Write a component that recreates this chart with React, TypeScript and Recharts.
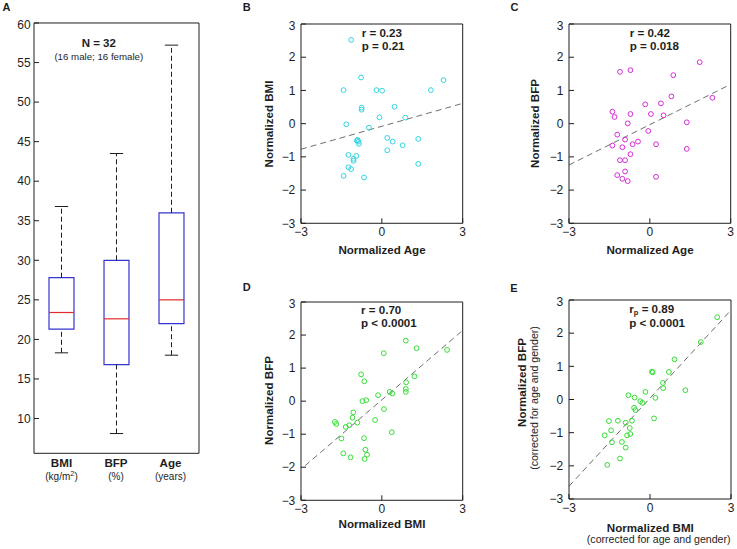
import React from "react";
import {
  ComposedChart,
  ScatterChart,
  Scatter,
  XAxis,
  YAxis,
  ReferenceArea,
  ReferenceLine,
} from "recharts";

// panel A: box plot summary
const boxCats = [1, 2, 3];
const boxLow = [18.3, 8.1, 18.0];
const boxQ1 = [21.3, 16.8, 22.0];
const boxMed = [23.4, 22.6, 25.0];
const boxQ3 = [27.8, 30.0, 36.0];
const boxHigh = [36.8, 43.5, 57.2];
const boxTicks = [10, 15, 20, 25, 30, 35, 40, 45, 50, 55, 60];

// panels B-E: normalized values
const normXTicks = [-3, 0, 3];
const normYTicks = [-3, -2, -1, 0, 1, 2, 3];

const ageB = [-1.14, -0.77, -1.42, -0.2, 0.01, 1.82, 2.29, -0.75, -0.75, 0.47, -0.09, 0.87, -1.32, -0.48, -0.93, -0.87, -0.85, 0.2, 0.4, 0.77, 1.35, 0.2, -1.24, -0.95, -1.05, -1.05, -1.24, -1.14, -1.42, -0.66, 1.35, -0.9];
const bmiB = [2.52, 1.39, 1.01, 1.01, 0.99, 1.01, 1.31, 0.48, 0.42, 0.51, 0.19, 0.18, -0.02, -0.12, -0.51, -0.54, -0.61, -0.43, -0.54, -0.65, -0.46, -0.8, -0.94, -0.97, -1.06, -1.12, -1.31, -1.37, -1.57, -1.62, -1.21, -0.49];

const ageC = [-1.11, -0.72, 1.85, 0.87, 0.8, 2.32, -0.17, 0.41, -1.39, -1.31, -0.72, 0.04, 0.51, -0.82, 1.37, -0.06, -1.21, -0.92, -0.64, -0.44, 0.23, -1.39, -1.02, 1.37, -0.72, -1.11, -0.92, -0.92, -1.21, -1.02, -0.82, 0.23];
const bfpC = [1.56, 1.61, 1.85, 1.46, 0.82, 0.78, 0.58, 0.61, 0.36, 0.2, 0.29, 0.29, 0.25, 0.01, 0.04, -0.22, -0.33, -0.48, -0.62, -0.54, -0.62, -0.66, -0.71, -0.76, -0.92, -1.1, -1.1, -1.44, -1.55, -1.66, -1.73, -1.6];

const bmiD = [0.89, 1.29, 2.42, 0.07, -0.77, -0.65, 0.9, 1.21, 0.89, 0.89, 0.29, 0.39, -0.14, -0.72, -0.58, 0.08, -1.06, -1.09, -0.25, -0.91, -1.74, -1.69, -1.21, -1.34, 0.37, -1.5, -0.66, -0.61, -0.55, -0.64, -1.43, -1.16];
const bfpD = [1.83, 1.6, 1.55, 1.45, 0.81, 0.6, 0.57, 0.75, 0.37, 0.28, 0.28, 0.23, 0.18, 0.0, 0.03, -0.24, -0.34, -0.5, -0.57, -0.65, -0.63, -0.69, -0.73, -0.78, -0.94, -1.13, -1.12, -1.47, -1.62, -1.75, -1.58, -1.7];

const bmiE = [2.49, 1.88, 0.91, 0.07, 0.1, 0.7, 0.48, 0.49, 1.31, -0.17, -0.8, -0.57, 0.2, -0.36, -0.28, -0.59, -0.54, 0.15, -1.52, -1.19, -0.9, -0.67, -1.44, -0.75, -1.68, -0.85, -0.73, -1.41, -1.04, -0.9, -1.11, -1.58];
const bfpE = [2.48, 1.73, 1.21, 0.84, 0.82, 0.83, 0.5, 0.34, 0.28, 0.23, 0.13, 0.06, 0.05, -0.05, -0.1, -0.25, -0.32, -0.57, -0.65, -0.64, -0.7, -0.64, -0.93, -0.86, -1.08, -1.08, -1.04, -1.29, -1.28, -1.45, -1.78, -1.97];

// least-squares lines per panel (B, C, D, E)
const fitSlope = [0.23, 0.405, 0.7, 0.885];
const fitIntercept = [-0.08, -0.03, 0.04, 0.04];
const fitFrom = [-3, -3, -2.85, -3];

const FONT = "'Liberation Sans', Arial, Helvetica, sans-serif";
const INK = "#1e1e1e";

const fmt = (v: number) => (v < 0 ? `\u2212${Math.abs(v)}` : String(v));

const circle = (color: string) => (props: any) =>
  <circle cx={props.cx} cy={props.cy} r={2.4} fill="none" stroke={color} strokeWidth={1} />;

const tickStyle = { fontSize: 12, fill: INK, fontFamily: FONT };

function BoxPanel() {
  const left = 34, right = 199, top = 22.7, bottom = 453;
  const L = 34, T = 6, R = 6, B = 10;
  const half = 0.227;
  const cap = 0.121;
  return (
    <div style={{ position: "absolute", left: left - L, top: top - T }}>
      <ComposedChart width={right - left + L + R} height={bottom - top + T + B} margin={{ top: 0, right: 0, bottom: 0, left: 0 }}>
        <XAxis type="number" dataKey="x" domain={[0.5, 3.5]} height={B} tick={false} tickLine={false} axisLine={{ stroke: INK }} allowDataOverflow />
        <XAxis xAxisId="t" orientation="top" type="number" domain={[0.5, 3.5]} height={T} tick={false} tickLine={false} axisLine={{ stroke: INK }} allowDataOverflow />
        <YAxis type="number" domain={[5.6, 60]} ticks={boxTicks} width={L} tickSize={-5} tickMargin={8.3} tick={tickStyle} axisLine={{ stroke: INK }} tickLine={{ stroke: INK }} allowDataOverflow />
        <YAxis yAxisId="r" orientation="right" type="number" domain={[5.6, 60]} ticks={boxTicks} width={R} tickSize={-5} tick={false} axisLine={{ stroke: INK }} tickLine={{ stroke: INK }} allowDataOverflow />
        {boxCats.map((c, i) => (
          <React.Fragment key={c}>
            <ReferenceLine segment={[{ x: c, y: boxQ3[i] }, { x: c, y: boxHigh[i] }]} stroke={INK} strokeDasharray="5 3" />
            <ReferenceLine segment={[{ x: c, y: boxLow[i] }, { x: c, y: boxQ1[i] }]} stroke={INK} strokeDasharray="5 3" />
            <ReferenceLine segment={[{ x: c - cap, y: boxHigh[i] }, { x: c + cap, y: boxHigh[i] }]} stroke={INK} />
            <ReferenceLine segment={[{ x: c - cap, y: boxLow[i] }, { x: c + cap, y: boxLow[i] }]} stroke={INK} />
            <ReferenceArea x1={c - half} x2={c + half} y1={boxQ1[i]} y2={boxQ3[i]} fill="#ffffff" fillOpacity={1} stroke="#3535d0" strokeWidth={1.2} />
            <ReferenceLine segment={[{ x: c - half, y: boxMed[i] }, { x: c + half, y: boxMed[i] }]} stroke="#e22a2a" strokeWidth={1.2} />
          </React.Fragment>
        ))}
      </ComposedChart>
    </div>
  );
}

type PanelProps = {
  left: number;
  top: number;
  right: number;
  bottom: number;
  xs: number[];
  ys: number[];
  color: string;
  k: number;
};

function ScatterPanel({ left, top, right, bottom, xs, ys, color, k }: PanelProps) {
  const L = 40, T = 6, R = 6, B = 24;
  const data = xs.map((x, i) => ({ x, y: ys[i] }));
  const x0 = fitFrom[k];
  const x1 = 3;
  const dot = circle(color);
  return (
    <div style={{ position: "absolute", left: left - L, top: top - T }}>
      <ScatterChart width={right - left + L + R} height={bottom - top + T + B} margin={{ top: 0, right: 0, bottom: 0, left: 0 }}>
        <XAxis type="number" dataKey="x" domain={[-3, 3]} ticks={normXTicks} height={B} tickSize={-5} tickMargin={9.4} tick={tickStyle} tickFormatter={fmt} axisLine={{ stroke: INK }} tickLine={{ stroke: INK }} allowDataOverflow />
        <XAxis xAxisId="t" orientation="top" type="number" domain={[-3, 3]} ticks={normXTicks} height={T} tickSize={-5} tick={false} axisLine={{ stroke: INK }} tickLine={{ stroke: INK }} allowDataOverflow />
        <YAxis type="number" dataKey="y" domain={[-3, 3]} ticks={normYTicks} width={L} tickSize={-5} tickMargin={10.7} tick={tickStyle} tickFormatter={fmt} axisLine={{ stroke: INK }} tickLine={{ stroke: INK }} allowDataOverflow />
        <YAxis yAxisId="r" orientation="right" type="number" domain={[-3, 3]} ticks={normYTicks} width={R} tickSize={-5} tick={false} axisLine={{ stroke: INK }} tickLine={{ stroke: INK }} allowDataOverflow />
        <ReferenceLine
          segment={[
            { x: x0, y: fitIntercept[k] + fitSlope[k] * x0 },
            { x: x1, y: fitIntercept[k] + fitSlope[k] * x1 },
          ]}
          stroke="#6e6e6e"
          strokeDasharray="6 4"
        />
        <Scatter data={data} shape={dot} activeShape={dot} isAnimationActive={false} />
      </ScatterChart>
    </div>
  );
}

function Labels() {
  const bold = { fontFamily: FONT, fontWeight: 700, fontSize: 11.6, fill: INK };
  const reg = { fontFamily: FONT, fontSize: 10, fill: INK };
  const letter = { fontFamily: FONT, fontWeight: 700, fontSize: 11, fill: INK };
  return (
    <svg width={737} height={549} style={{ position: "absolute", left: 0, top: 0, pointerEvents: "none" }}>
      <text x={2.5} y={11} {...letter}>A</text>
      <text x={242.7} y={11} {...letter}>B</text>
      <text x={510.5} y={11} {...letter}>C</text>
      <text x={242.7} y={291} {...letter}>D</text>
      <text x={510.2} y={291.5} {...letter}>E</text>

      <text x={98.8} y={47.3} textAnchor="middle" {...bold} fontSize={11.5}>N = 32</text>
      <text x={98.8} y={60} textAnchor="middle" {...reg} fontSize={9.7}>(16 male; 16 female)</text>

      <text x={61.5} y={467.3} textAnchor="middle" {...bold}>BMI</text>
      <text x={61.5} y={479.5} textAnchor="middle" {...reg}>
        (kg/m<tspan dy={-4} fontSize={7.5}>2</tspan><tspan dy={4}>)</tspan>
      </text>
      <text x={116} y={467.3} textAnchor="middle" {...bold}>BFP</text>
      <text x={116} y={479.5} textAnchor="middle" {...reg}>(%)</text>
      <text x={170.5} y={467.3} textAnchor="middle" {...bold}>Age</text>
      <text x={170.5} y={479.5} textAnchor="middle" {...reg}>(years)</text>

      <text x={361.7} y={36.7} {...bold}>r = 0.23</text>
      <text x={361.7} y={50} {...bold}>p = 0.21</text>
      <text transform="translate(272.7,124) rotate(-90)" textAnchor="middle" {...bold}>Normalized BMI</text>
      <text x={382} y={254} textAnchor="middle" {...bold}>Normalized Age</text>

      <text x={629.7} y={36.7} {...bold}>r = 0.42</text>
      <text x={629.7} y={50} {...bold}>p = 0.018</text>
      <text transform="translate(539,123.5) rotate(-90)" textAnchor="middle" {...bold}>Normalized BFP</text>
      <text x={650} y={254} textAnchor="middle" {...bold}>Normalized Age</text>

      <text x={361} y={314.3} {...bold}>r = 0.70</text>
      <text x={361} y={327.3} {...bold}>p &lt; 0.0001</text>
      <text transform="translate(272.7,400.5) rotate(-90)" textAnchor="middle" {...bold}>Normalized BFP</text>
      <text x={382} y={528.3} textAnchor="middle" {...bold}>Normalized BMI</text>

      <text x={629.3} y={312.8} {...bold}>
        r<tspan dy={1.8} fontSize={7.5}>p</tspan><tspan dy={-1.8}> = 0.89</tspan>
      </text>
      <text x={629.3} y={327.3} {...bold}>p &lt; 0.0001</text>
      <text transform="translate(526,382.5) rotate(-90)" textAnchor="middle" {...bold}>Normalized BFP</text>
      <text transform="translate(538,398) rotate(-90)" textAnchor="middle" {...reg} fontSize={10.6}>(corrected for age and gender)</text>
      <text x={650.3} y={531.7} textAnchor="middle" {...bold}>Normalized BMI</text>
      <text x={658.7} y={542.5} textAnchor="middle" {...reg} fontSize={10.6}>(corrected for age and gender)</text>
    </svg>
  );
}

export default function App() {
  return (
    <div style={{ position: "absolute", left: 0, top: 0, width: 737, height: 549, background: "#ffffff" }}>
      <BoxPanel />
      <ScatterPanel left={301} top={24} right={462.7} bottom={223.3} xs={ageB} ys={bmiB} color="#2fd3e0" k={0} />
      <ScatterPanel left={569} top={24} right={730.7} bottom={223.3} xs={ageC} ys={bfpC} color="#d62ad8" k={1} />
      <ScatterPanel left={301} top={301.7} right={462.7} bottom={500} xs={bmiD} ys={bfpD} color="#33dd33" k={2} />
      <ScatterPanel left={569.3} top={300} right={731.3} bottom={499} xs={bmiE} ys={bfpE} color="#33dd33" k={3} />
      <Labels />
    </div>
  );
}
